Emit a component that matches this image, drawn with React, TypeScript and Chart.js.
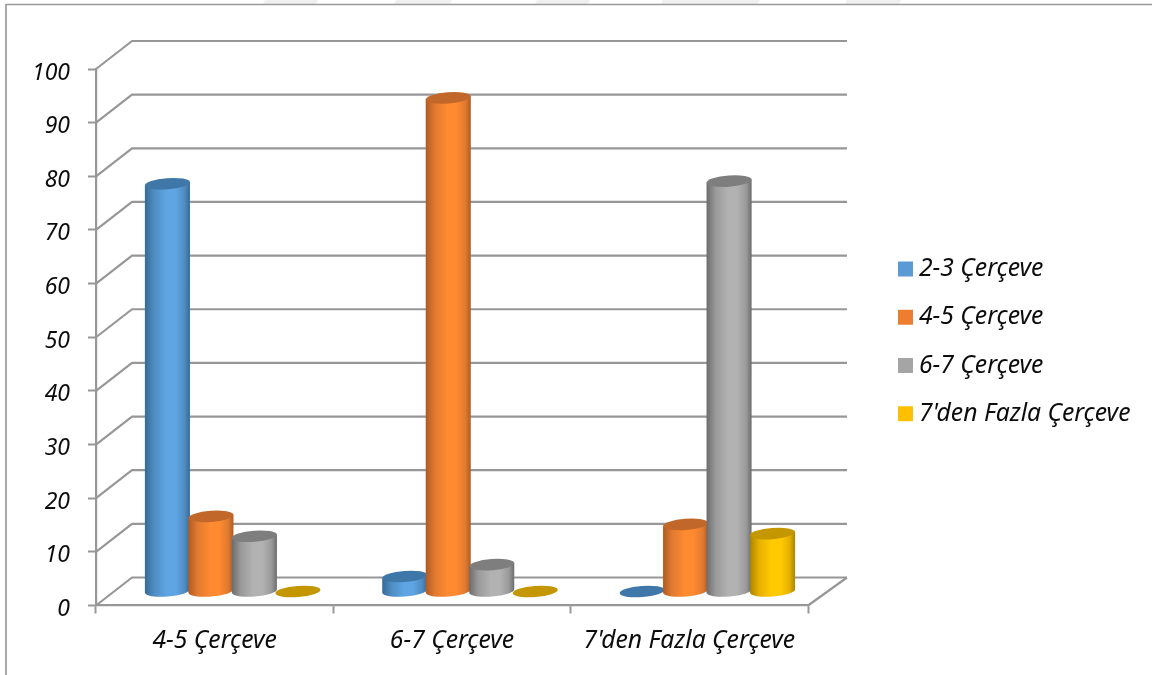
import { useEffect, useRef } from "react";
import { Chart, registerables } from "chart.js";

Chart.register(...registerables);

const categories = ["4-5 Çerçeve", "6-7 Çerçeve", "7'den Fazla Çerçeve"];
const seriesNames = ["2-3 Çerçeve", "4-5 Çerçeve", "6-7 Çerçeve", "7'den Fazla Çerçeve"];
const series23 = [76, 2.8, 0];
const series45 = [14, 92, 12.5];
const series67 = [10.3, 5, 76.5];
const series7plus = [0, 0, 10.8];
const legendColors = ["#5b9bd5", "#ed7d31", "#a5a5a5", "#ffc000"];
const axisColor = "#979797";
const textColor = "#0c0c0c";
const fontFamily = "'Noto Sans', sans-serif";
const labelSize = 24.7;
const tickSize = 23;

// Pale bands along the very top edge of the page, as x start and end
const topBands = [
  [263, 316],
  [394, 450],
  [535, 588],
  [661, 758],
  [845, 899],
];

// Cylinder shading per series: edge, mid, highlight, cap
const shades = [
  { edge: "#376a97", mid: "#4f8cc2", light: "#5fa5e3", cap: "#3f77a8" },
  { edge: "#b05a22", mid: "#e07a30", light: "#ff8a30", cap: "#c2672a" },
  { edge: "#6c6c6c", mid: "#9a9a9a", light: "#b2b2b2", cap: "#7e7e7e" },
  { edge: "#a88400", mid: "#e6b000", light: "#ffcb00", cap: "#c49600" },
];

// Depth of the 3D box, and how far the cylinders sit inside it
const depth = { back: 36, backRight: 39, rise: 28 };
const inset = { x: 18, y: 14 };
const capRadiusY = 5.6;
const capTilt = -0.075;

const box3d = {
  id: "box3d",
  afterLayout(chart: any) {
    // Fixed plot rectangle, leaving room for the box depth beside the legend
    const area = { left: 96, top: 69, right: 808, bottom: 605.5 };
    chart.chartArea = { ...area, width: area.right - area.left, height: area.bottom - area.top };
    const { x, y } = chart.scales;
    y.left = 20;
    y.right = area.left;
    y.width = y.right - y.left;
    y.top = area.top;
    y.bottom = area.bottom;
    y.height = area.bottom - area.top;
    x.left = area.left;
    x.right = area.right;
    x.width = area.right - area.left;
    x.top = area.bottom;
    x.bottom = 668;
    x.height = x.bottom - x.top;
    x.configure();
    y.configure();
    const legend = chart.legend;
    legend.left = 880.75;
    legend.right = 1152;
    legend.top = 233;
    legend.bottom = 470;
  },
  beforeDraw(chart: any) {
    const ctx = chart.ctx;
    ctx.save();
    ctx.fillStyle = "#f0f0f0";
    topBands.forEach(([a, b]) => {
      ctx.beginPath();
      ctx.moveTo(a, 4);
      ctx.lineTo(a + 2, 0);
      ctx.lineTo(b + 2, 0);
      ctx.lineTo(b, 4);
      ctx.closePath();
      ctx.fill();
    });
    ctx.strokeStyle = "#9a9a9a";
    ctx.lineWidth = 1.7;
    ctx.beginPath();
    ctx.moveTo(6, 675);
    ctx.lineTo(6, 4.5);
    ctx.lineTo(1152, 4.5);
    ctx.stroke();
    ctx.restore();
  },
  beforeDatasetsDraw(chart: any) {
    const { ctx, chartArea } = chart;
    const y = chart.scales.y;
    ctx.save();
    ctx.strokeStyle = axisColor;
    ctx.lineWidth = 2.2;
    ctx.lineJoin = "round";
    y.ticks.forEach((tick: any) => {
      const py = y.getPixelForValue(tick.value);
      ctx.beginPath();
      ctx.moveTo(chartArea.left, py);
      ctx.lineTo(chartArea.left + depth.back, py - depth.rise);
      ctx.lineTo(chartArea.right + depth.backRight, py - depth.rise);
      ctx.stroke();
    });
    const floor = y.getPixelForValue(0);
    ctx.beginPath();
    ctx.moveTo(chartArea.right + depth.backRight, floor - depth.rise);
    ctx.lineTo(chartArea.right, floor);
    ctx.stroke();
    ctx.restore();
  },
  beforeDatasetDraw() {
    return false;
  },
  afterDatasetsDraw(chart: any) {
    const ctx = chart.ctx;
    // Later series stand in front of earlier ones
    chart.data.datasets.forEach((_: any, i: number) => {
      const shade = shades[i];
      chart.getDatasetMeta(i).data.forEach((bar: any) => {
        const r = bar.width / 2 + 0.8;
        const cx = bar.x + inset.x;
        const top = bar.y - inset.y;
        const base = bar.base - inset.y;
        const dy = Math.sin(-capTilt) * r;
        ctx.save();
        if (base - top > 0.5) {
          const g = ctx.createLinearGradient(cx - r, 0, cx + r, 0);
          g.addColorStop(0, shade.edge);
          g.addColorStop(0.2, shade.mid);
          g.addColorStop(0.48, shade.light);
          g.addColorStop(0.68, shade.light);
          g.addColorStop(0.88, shade.mid);
          g.addColorStop(1, shade.edge);
          ctx.fillStyle = g;
          ctx.beginPath();
          ctx.moveTo(cx - r, top + dy);
          ctx.lineTo(cx - r, base + dy);
          ctx.ellipse(cx, base, r, capRadiusY, capTilt, Math.PI, 0, true);
          ctx.lineTo(cx + r, top - dy);
          ctx.closePath();
          ctx.fill();
        }
        ctx.fillStyle = shade.cap;
        ctx.beginPath();
        ctx.ellipse(cx, top, r, capRadiusY, capTilt, 0, Math.PI * 2);
        ctx.fill();
        ctx.restore();
      });
    });
  },
};

export default function App() {
  const ref = useRef<HTMLCanvasElement>(null);

  useEffect(() => {
    const values = [series23, series45, series67, series7plus];
    const chart = new Chart(ref.current as HTMLCanvasElement, {
      type: "bar",
      data: {
        labels: categories,
        datasets: seriesNames.map((label, i) => ({
          label,
          data: values[i],
          backgroundColor: legendColors[i],
          barPercentage: 1,
          categoryPercentage: 0.733,
        })),
      },
      plugins: [box3d],
      options: {
        responsive: false,
        animation: false,
        scales: {
          x: {
            grid: { drawOnChartArea: false, tickLength: 8, tickColor: axisColor, tickWidth: 2 },
            border: { color: axisColor, width: 2.2 },
            ticks: {
              color: textColor,
              padding: 13,
              maxRotation: 0,
              autoSkip: false,
              font: { family: fontFamily, style: "italic", size: labelSize },
            },
          },
          y: {
            min: 0,
            max: 100,
            grid: { drawOnChartArea: false, tickLength: 8, tickColor: axisColor, tickWidth: 2 },
            border: { color: axisColor, width: 2.2 },
            ticks: {
              stepSize: 10,
              color: textColor,
              padding: 18,
              labelOffset: 4,
              font: { family: fontFamily, style: "italic", size: tickSize },
            },
          },
        },
        plugins: {
          tooltip: { enabled: false },
          legend: {
            position: "right",
            align: "start",
            labels: {
              color: textColor,
              font: { family: fontFamily, style: "italic", size: labelSize },
              padding: 23.6,
              boxWidth: 2.3,
              boxHeight: 2.3,
              // A thick outline squares the swatch up to 15px while keeping it close to its text
              generateLabels: (c: any) =>
                c.data.datasets.map((d: any, i: number) => ({
                  text: d.label,
                  datasetIndex: i,
                  fillStyle: legendColors[i],
                  strokeStyle: legendColors[i],
                  lineWidth: 12.7,
                  fontColor: textColor,
                  hidden: false,
                })),
            },
          },
        },
      },
    } as any);
    return () => chart.destroy();
  }, []);

  return (
    <div style={{ position: "fixed", left: 0, top: 0, width: 1152, height: 675, background: "#fff" }}>
      <canvas ref={ref} width={1152} height={675} style={{ display: "block" }} />
    </div>
  );
}
